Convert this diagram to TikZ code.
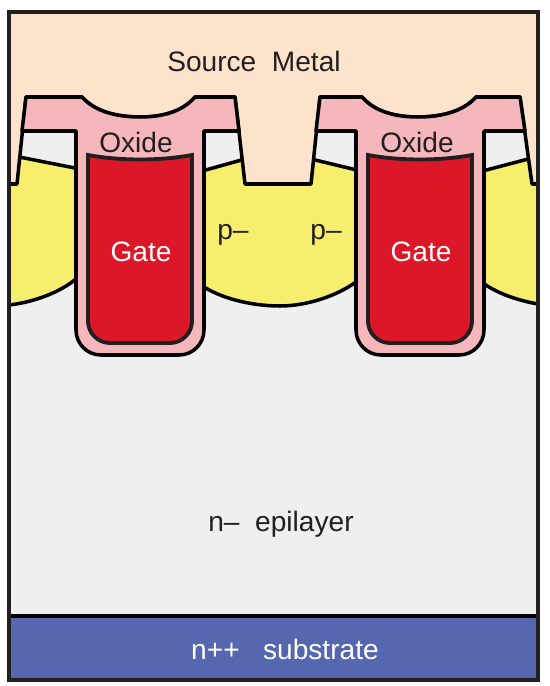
\documentclass[tikz,border=0pt]{standalone}
\usepackage{fontspec}
\setmainfont{Liberation Sans}
\definecolor{metalc}{HTML}{FDE3CC}
\definecolor{oxidec}{HTML}{F5B7BB}
\definecolor{epic}{HTML}{EFEFEF}
\definecolor{bodyc}{HTML}{F7EE6E}
\definecolor{gatec}{HTML}{DC1828}
\definecolor{subc}{HTML}{5567AE}
\definecolor{inkc}{HTML}{231F20}
\begin{document}
\begin{tikzpicture}[x=0.02cm, y=-0.02cm,
    layer/.style={draw=black, line width=2pt, line join=round},
    gatelayer/.style={draw=inkc, line width=2.2pt, fill=gatec, line join=miter},
    darklabel/.style={text=inkc, font=\fontsize{16}{18}\selectfont},
    lightlabel/.style={text=white, font=\fontsize{16}{18}\selectfont}]
    \useasboundingbox (0, 0) rectangle (550, 686);

    % epilayer
    \fill[epic] (9, 12) rectangle (538, 616);

    % p- body
    \draw[layer, fill=bodyc] (9, 155) -- (85, 170) -- (85, 279) -- (76, 279) .. controls (60, 292) and (35, 302) .. (9, 305) -- cycle;
    \draw[layer, fill=bodyc] (195, 173) -- (245, 159) -- (311, 159) -- (365, 172) -- (365, 277) -- (356, 282) .. controls (335, 297) and (305, 306) .. (280, 306) .. controls (255, 306) and (225, 300) .. (204, 287) -- (195, 282) -- cycle;
    \draw[layer, fill=bodyc] (475, 173) -- (532, 158) -- (538, 158) -- (538, 304) .. controls (515, 300) and (495, 292) .. (483, 283) -- (475, 278) -- cycle;

    % source metal
    \draw[layer, fill=metalc] (9, 12) -- (538, 12) -- (538, 184) -- (532, 184) -- (520, 97) -- (476, 97)
        .. controls (463, 112) and (440, 117) .. (418, 117) .. controls (396, 117) and (375, 112) .. (362, 97)
        -- (320, 97) -- (311, 184) -- (245, 184) -- (235, 97) -- (195, 97)
        .. controls (182, 112) and (162, 117) .. (140, 117) .. controls (118, 117) and (95, 112) .. (82, 97)
        -- (26, 97) -- (17, 184) -- (9, 184) -- cycle;

    % oxide
    \draw[layer, fill=oxidec] (26, 97) -- (82, 97) .. controls (95, 112) and (118, 117) .. (140, 117) .. controls (162, 117) and (182, 112) .. (195, 97)
        -- (235, 97) -- (239, 131) -- (204, 131) [rounded corners=5mm] -- (204, 355) -- (76, 355) [sharp corners] -- (76, 131) -- (22, 131) -- cycle;
    \draw[layer, fill=oxidec] (320, 97) -- (362, 97) .. controls (375, 112) and (396, 117) .. (418, 117) .. controls (440, 117) and (463, 112) .. (476, 97)
        -- (520, 97) -- (525, 131) -- (484, 131) [rounded corners=5mm] -- (484, 355) -- (356, 355) [sharp corners] -- (356, 131) -- (316, 131) -- cycle;

    % gate
    \draw[gatelayer] (88, 155) .. controls (120, 161) and (160, 161) .. (192, 155) [rounded corners=4.4mm] -- (192, 343) -- (88, 343) [sharp corners] -- cycle;
    \draw[gatelayer] (368, 155) .. controls (400, 161) and (440, 161) .. (472, 155) [rounded corners=4.4mm] -- (472, 343) -- (368, 343) [sharp corners] -- cycle;

    % substrate
    \fill[subc] (9, 616) rectangle (538, 680);
    \draw[black, line width=2pt] (9, 616) -- (538, 616);

    % frame
    \draw[inkc, line width=2pt] (9, 12) rectangle (538, 680);

    % labels
    \node[darklabel] (metal) at (254, 61) {Source\ \ Metal};
    \node[darklabel] (oxidea) at (136, 142) {Oxide};
    \node[darklabel] (oxideb) at (417, 142) {Oxide};
    \node[lightlabel] (gatea) at (141, 252) {Gate};
    \node[lightlabel] (gateb) at (421, 252) {Gate};
    \node[darklabel] (bodya) at (233, 235) {p–};
    \node[darklabel] (bodyb) at (326, 235) {p–};
    \node[darklabel] (epi) at (281, 524) {n–\ \ epilayer};
    \node[lightlabel] (sub) at (285, 649) {n++\ \ \ substrate};
\end{tikzpicture}
\end{document}
